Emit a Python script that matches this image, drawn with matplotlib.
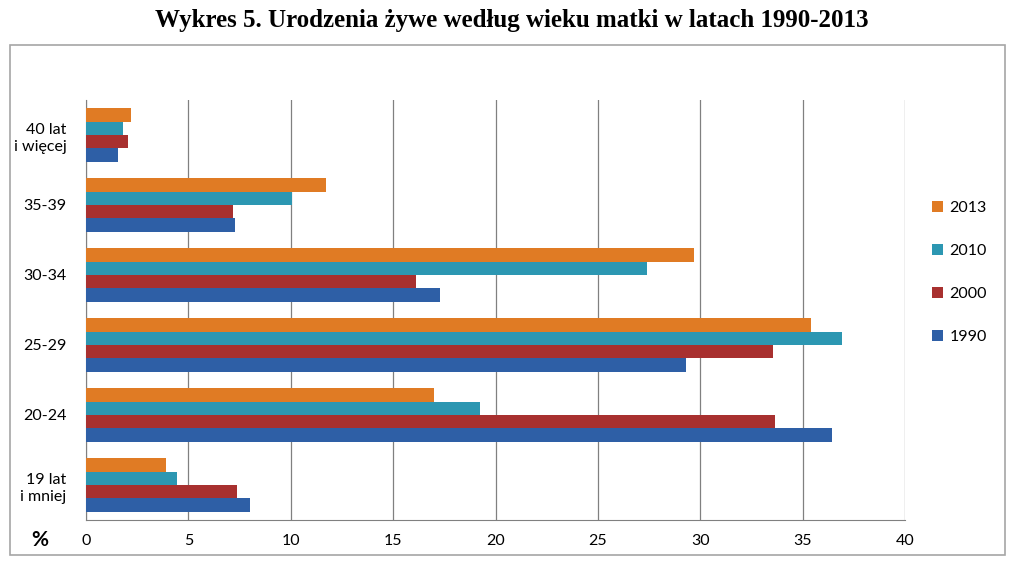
import numpy as np
import matplotlib.pyplot as plt
from matplotlib.patches import Rectangle

# age groups, bottom to top
categories = ['19 lat\ni mniej', '20-24', '25-29', '30-34', '35-39', '40 lat\ni więcej']
years = ['1990', '2000', '2010', '2013']
v1990 = [8.0, 36.45, 29.3, 17.3, 7.28, 1.55]
v2000 = [7.37, 33.65, 33.55, 16.1, 7.2, 2.05]
v2010 = [4.45, 19.25, 36.9, 27.4, 10.05, 1.8]
v2013 = [3.9, 17.0, 35.4, 29.7, 11.7, 2.2]
xticks = [0, 5, 10, 15, 20, 25, 30, 35, 40]

colors = ['#2E5FA6', '#A8302F', '#2C97B2', '#E07B24']
series = [v1990, v2000, v2010, v2013]

plt.rcParams['font.family'] = ['Lato', 'DejaVu Sans']

fig = plt.figure(figsize=(10.24, 5.65), dpi=100)
ax = fig.add_axes([86 / 1024, 1 - 520 / 565, (905 - 86) / 1024, 420 / 565])

# outer frame
fig.patches.append(Rectangle((10 / 1024, 1 - 555 / 565), 995 / 1024, 510 / 565,
                             transform=fig.transFigure, fill=False,
                             edgecolor='#A6A6A6', linewidth=1.2))

y = np.arange(len(categories))
h = 0.19
for i, (vals, c, lab) in enumerate(zip(series, colors, years)):
    ax.barh(y + (i - 1.5) * h, vals, height=h, color=c, label=lab, zorder=3)

ax.set_xlim(0, 40)
ax.set_ylim(-0.5, len(categories) - 0.5)
ax.set_xticks(xticks)
ax.set_yticks(y)
ax.set_yticklabels(categories, fontsize=11.5, linespacing=1.3)
ax.tick_params(axis='x', labelsize=11.5, length=0, pad=10)
ax.tick_params(axis='y', length=0, pad=14)
ax.grid(axis='x', color='#808080', linewidth=0.9, zorder=0)
for s in ['top', 'right']:
    ax.spines[s].set_visible(False)
ax.spines['left'].set_color('#808080')
ax.spines['bottom'].set_color('#808080')

handles, labels = ax.get_legend_handles_labels()
ax.legend(handles[::-1], labels[::-1], loc='center left', bbox_to_anchor=(1.015, 0.59),
          frameon=False, fontsize=11.5, labelspacing=1.8, handlelength=0.7,
          handleheight=0.7, handletextpad=0.4)

fig.text(40 / 1024, 1 - 540 / 565, '%', fontsize=15, fontweight='bold',
         ha='center', va='center')
fig.text(0.5, 1 - 20 / 565, 'Wykres 5. Urodzenia żywe według wieku matki w latach 1990-2013',
         fontsize=18, fontweight='bold', family='Liberation Serif',
         ha='center', va='center')

fig.savefig('out.png', dpi=100)
